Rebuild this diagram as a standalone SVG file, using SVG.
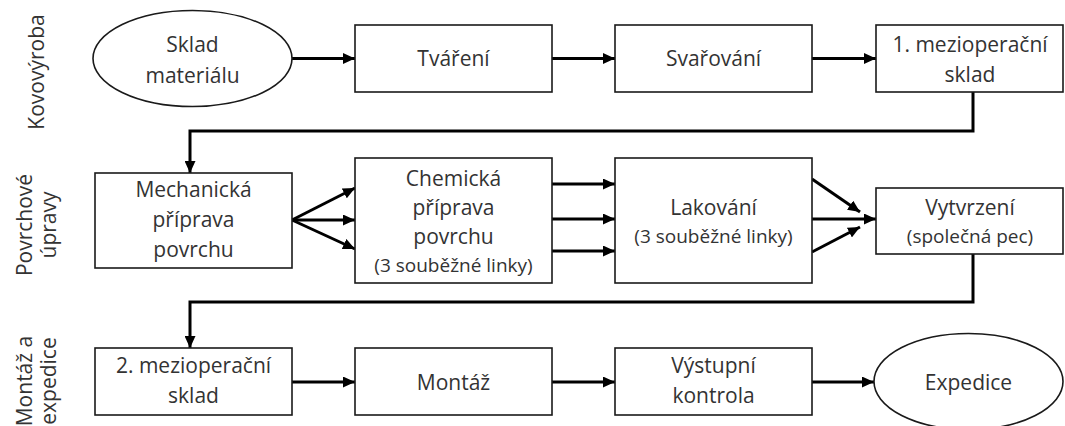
<svg xmlns="http://www.w3.org/2000/svg" width="1065" height="426" viewBox="0 0 1065 426">
  <defs>
    <marker id="arrow" markerUnits="userSpaceOnUse" markerWidth="12" markerHeight="11" refX="12" refY="5.5" orient="auto">
      <path d="M0,0 L12,5.5 L0,11 z" fill="#000"/>
    </marker>
    <style>
      .box { fill: #fff; stroke: #1a1a1a; stroke-width: 1.6; }
      .lbl { font-family: "Open Sans", "Liberation Sans", sans-serif; font-size: 21px; fill: #333; text-anchor: middle; }
      .sub { font-size: 19px; }
      .lane { font-family: "Open Sans", "Liberation Sans", sans-serif; font-size: 21px; fill: #333; text-anchor: middle; }
      .conn { fill: none; stroke: #000; stroke-width: 3; marker-end: url(#arrow); }
    </style>
  </defs>
  <rect width="1065" height="426" fill="#fff"/>

  <!-- lane titles -->
  <g id="lane-kovovyroba">
    <text class="lane" transform="translate(44,72) rotate(-90)">Kovovýroba</text>
  </g>
  <g id="lane-povrchove">
    <text class="lane" transform="translate(32,225) rotate(-90)">Povrchové</text>
    <text class="lane" transform="translate(56,225) rotate(-90)">úpravy</text>
  </g>
  <g id="lane-montaz">
    <text class="lane" transform="translate(32,381) rotate(-90)">Montáž a</text>
    <text class="lane" transform="translate(56,381) rotate(-90)">expedice</text>
  </g>

  <!-- connectors -->
  <g id="connectors">
    <line class="conn" x1="292" y1="58.5" x2="355" y2="58.5"/>
    <line class="conn" x1="552" y1="58.5" x2="615" y2="58.5"/>
    <line class="conn" x1="812" y1="58.5" x2="876" y2="58.5"/>
    <polyline class="conn" points="973,92 973,131 190,131 190,173"/>

    <line class="conn" x1="292" y1="220" x2="355" y2="188"/>
    <line class="conn" x1="292" y1="220" x2="355" y2="220"/>
    <line class="conn" x1="292" y1="220" x2="355" y2="249"/>

    <line class="conn" x1="552" y1="184" x2="615" y2="184"/>
    <line class="conn" x1="552" y1="219" x2="615" y2="219"/>
    <line class="conn" x1="552" y1="251" x2="615" y2="251"/>

    <line class="conn" x1="812" y1="179" x2="860" y2="212"/>
    <line class="conn" x1="812" y1="219" x2="876" y2="219"/>
    <line class="conn" x1="812" y1="252" x2="860" y2="227"/>

    <polyline class="conn" points="973,254 973,302 190,302 190,348"/>

    <line class="conn" x1="292" y1="382" x2="355" y2="382"/>
    <line class="conn" x1="552" y1="382" x2="615" y2="382"/>
    <line class="conn" x1="812" y1="382" x2="874" y2="382"/>
  </g>

  <!-- row 1 -->
  <g id="sklad-materialu">
    <ellipse class="box" cx="192.5" cy="58.5" rx="99.5" ry="48"/>
    <text class="lbl" x="192.5" y="52">Sklad</text>
    <text class="lbl" x="192.5" y="83">materiálu</text>
  </g>
  <g id="tvareni">
    <rect class="box" x="355" y="25" width="197" height="67"/>
    <text class="lbl" x="453.5" y="66">Tváření</text>
  </g>
  <g id="svarovani">
    <rect class="box" x="615" y="25" width="197" height="67"/>
    <text class="lbl" x="713.5" y="66">Svařování</text>
  </g>
  <g id="mezisklad-1">
    <rect class="box" x="876" y="25" width="187" height="67"/>
    <text class="lbl" x="970" y="52">1. mezioperační</text>
    <text class="lbl" x="970" y="82">sklad</text>
  </g>

  <!-- row 2 -->
  <g id="mechanicka-priprava">
    <rect class="box" x="95" y="173" width="197" height="95"/>
    <text class="lbl" x="193.5" y="197">Mechanická</text>
    <text class="lbl" x="193.5" y="227">příprava</text>
    <text class="lbl" x="193.5" y="257">povrchu</text>
  </g>
  <g id="chemicka-priprava">
    <rect class="box" x="355" y="158" width="197" height="125"/>
    <text class="lbl" x="453.5" y="186">Chemická</text>
    <text class="lbl" x="453.5" y="215">příprava</text>
    <text class="lbl" x="453.5" y="244">povrchu</text>
    <text class="lbl sub" x="453.5" y="272">(3 souběžné linky)</text>
  </g>
  <g id="lakovani">
    <rect class="box" x="615" y="158" width="197" height="125"/>
    <text class="lbl" x="713.5" y="215">Lakování</text>
    <text class="lbl sub" x="713.5" y="243">(3 souběžné linky)</text>
  </g>
  <g id="vytvrzeni">
    <rect class="box" x="876" y="188" width="187" height="66"/>
    <text class="lbl" x="970" y="215">Vytvrzení</text>
    <text class="lbl sub" x="970" y="243">(společná pec)</text>
  </g>

  <!-- row 3 -->
  <g id="mezisklad-2">
    <rect class="box" x="95" y="348" width="197" height="67"/>
    <text class="lbl" x="193.5" y="373">2. mezioperační</text>
    <text class="lbl" x="193.5" y="403">sklad</text>
  </g>
  <g id="montaz">
    <rect class="box" x="355" y="348" width="197" height="67"/>
    <text class="lbl" x="453.5" y="390">Montáž</text>
  </g>
  <g id="vystupni-kontrola">
    <rect class="box" x="615" y="348" width="197" height="67"/>
    <text class="lbl" x="713.5" y="373">Výstupní</text>
    <text class="lbl" x="713.5" y="403">kontrola</text>
  </g>
  <g id="expedice">
    <ellipse class="box" cx="968.5" cy="381.5" rx="94.5" ry="48"/>
    <text class="lbl" x="968.5" y="390">Expedice</text>
  </g>
</svg>
